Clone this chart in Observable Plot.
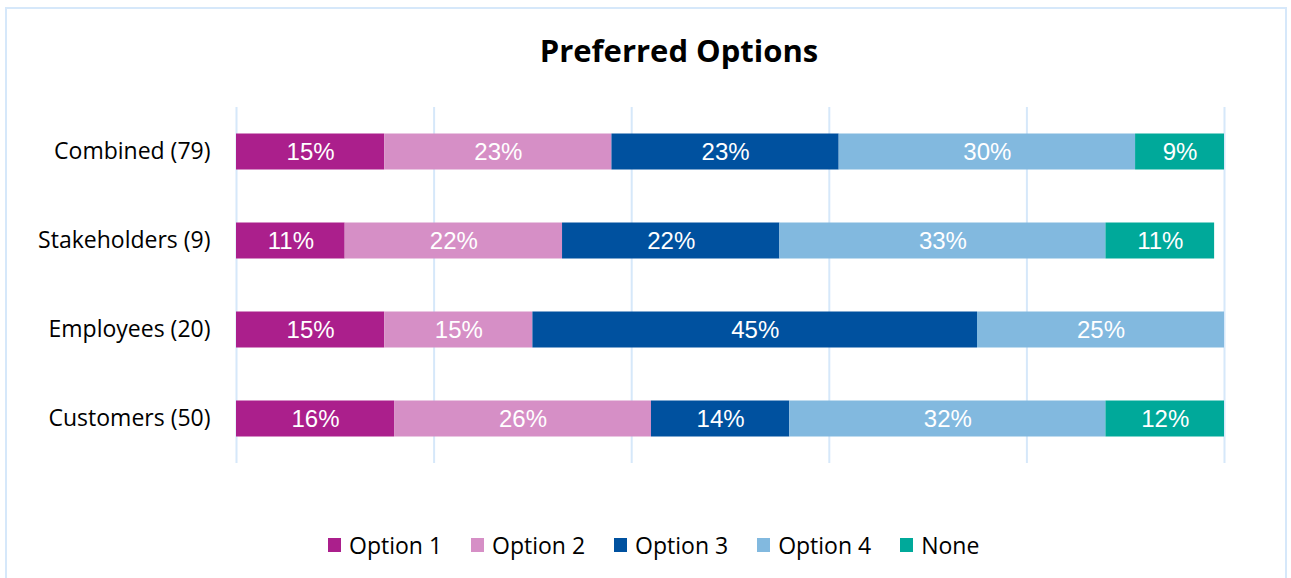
<!DOCTYPE html>
<html>
<head>
<meta charset="utf-8">
<script src="https://cdn.jsdelivr.net/npm/d3@7"></script>
<script src="https://cdn.jsdelivr.net/npm/@observablehq/plot@0.6"></script>
<style>
  html, body { margin: 0; padding: 0; background: #fff; width: 1291px; height: 578px; overflow: hidden; }
  #frame { position: absolute; left: 5px; top: 7px; width: 1282px; height: 600px; border: 2px solid #D6E8FA; box-sizing: border-box; }
  #title { position: absolute; left: 0; top: 30px; width: 1358px; text-align: center; font-family: "Open Sans", sans-serif; font-weight: bold; font-size: 31px; line-height: 40px; color: #000; }
  #chart { position: absolute; left: 0; top: 95px; }
  #legend { position: absolute; left: 328px; top: 529px; display: flex; gap: 29px; font-family: "Open Sans", sans-serif; font-size: 23px; line-height: 32px; color: #000; }
  #legend .item { display: flex; align-items: center; gap: 8px; }
  #legend .sw { width: 13px; height: 14px; display: inline-block; }
</style>
</head>
<body>
<div id="frame"></div>
<div id="title">Preferred Options</div>
<div id="chart"></div>
<div id="legend"></div>
<script>
const groups = ["Combined (79)", "Stakeholders (9)", "Employees (20)", "Customers (50)"];
const options = ["Option 1", "Option 2", "Option 3", "Option 4", "None"];
const colors = ["#AB1F8C", "#D68FC6", "#00519F", "#82B9DF", "#00A99A"];
const combined = [15, 23, 23, 30, 9];
const stakeholders = [11, 22, 22, 33, 11];
const employees = [15, 15, 45, 25, 0];
const customers = [16, 26, 14, 32, 12];
const gridTicks = [0, 20, 40, 60, 80, 100];

const series = [combined, stakeholders, employees, customers];
const data = [];
groups.forEach((g, gi) => {
  options.forEach((o, oi) => {
    data.push({group: g, option: o, value: series[gi][oi]});
  });
});
const shown = data.filter(d => d.value > 0);

const plot = Plot.plot({
  width: 1291,
  height: 375,
  marginLeft: 236,
  marginRight: 67,
  marginTop: 12,
  marginBottom: 7,
  style: {background: "transparent", fontFamily: "'Open Sans', sans-serif"},
  x: {domain: [0, 100], axis: null},
  y: {domain: groups, padding: 0, label: null, axis: null},
  color: {domain: options, range: colors},
  marks: [
    Plot.ruleX(gridTicks, {stroke: "#D6E8FA", strokeWidth: 2}),
    Plot.barX(shown, Plot.stackX({x: "value", y: "group", fill: "option", z: "option", insetTop: 26.5, insetBottom: 26.5})),
    Plot.text(shown, Plot.stackX({x: "value", y: "group", z: "option", text: d => d.value + "%", fill: "white", fontSize: 24, fontFamily: "'Liberation Sans', Arial, sans-serif"})),
    Plot.axisY({tickSize: 0, tickPadding: 26, fontSize: 23, label: null, fill: "#000"})
  ]
});
plot.querySelectorAll("[aria-label='y-axis tick label']").forEach(t => t.setAttribute("font-size", 23));
document.getElementById("chart").appendChild(plot);

const legend = document.getElementById("legend");
options.forEach((o, i) => {
  const item = document.createElement("div");
  item.className = "item";
  const sw = document.createElement("span");
  sw.className = "sw";
  sw.style.background = colors[i];
  const lab = document.createElement("span");
  lab.textContent = o;
  item.appendChild(sw);
  item.appendChild(lab);
  legend.appendChild(item);
});
</script>
</body>
</html>
